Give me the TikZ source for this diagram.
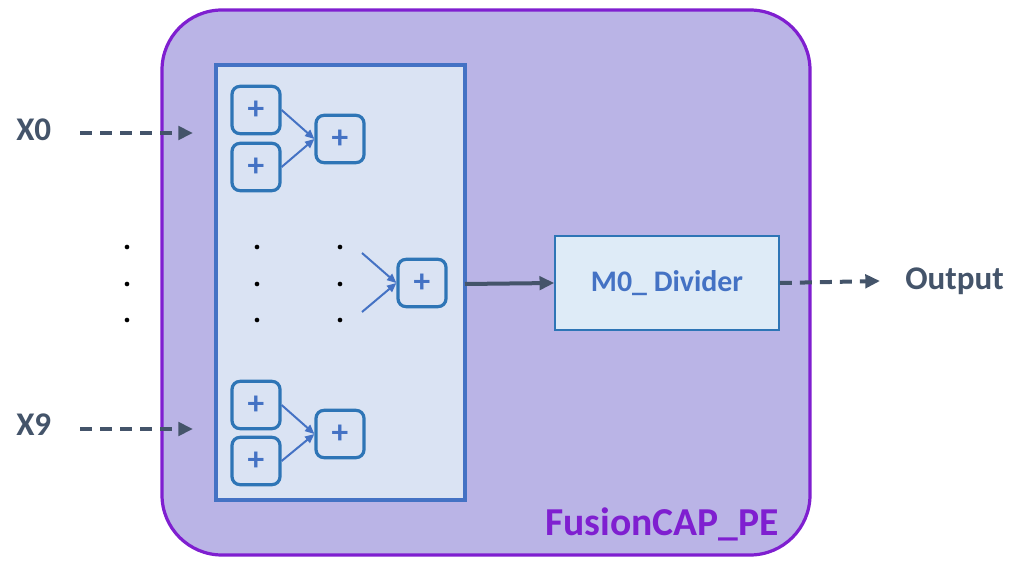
\documentclass[tikz,border=0pt]{standalone}
\usepackage{fontspec}
\setmainfont{Carlito}
\usetikzlibrary{arrows.meta}
\definecolor{purpl}{HTML}{7F1FD0}
\definecolor{outerfill}{HTML}{BAB4E6}
\definecolor{innerfill}{HTML}{DAE3F3}
\definecolor{blu}{HTML}{4472C4}
\definecolor{boxline}{HTML}{2E75B6}
\definecolor{slate}{HTML}{44546A}
\definecolor{divfill}{HTML}{DEEBF7}
\tikzset{
  addbox/.style={draw=boxline, line width=2.4pt, fill=innerfill, rounded corners=6pt,
    minimum width=36pt, minimum height=35.5pt, inner sep=0pt, text=blu,
    font=\fontsize{25}{25}\selectfont\bfseries},
  thinarr/.style={draw=blu, line width=1.5pt, -{Triangle[length=7pt,width=6pt]}},
  dasharr/.style={draw=slate, line width=3pt, dash pattern=on 9pt off 6pt, -{Triangle[length=11pt,width=10pt]}},
  lbl/.style={text=slate, font=\fontsize{24.8}{25}\selectfont\bfseries, inner sep=0pt},
  dot/.style={circle, fill=black, inner sep=0pt, minimum size=3.5pt},
}
\begin{document}
\begin{tikzpicture}[x=0.75pt,y=-0.75pt]
\useasboundingbox (0,0) rectangle (1009,566);
% outer
\draw[draw=purpl, fill=outerfill, line width=2.4pt, rounded corners=45pt] (162,10) rectangle (810,555);
\node[text=purpl, font=\fontsize{29.7}{30}\selectfont\bfseries, anchor=base east, inner sep=0pt] (title) at (779,535) {FusionCAP\_PE};
% inner
\draw[draw=blu, fill=innerfill, line width=2.4pt] (216,65) rectangle (465,500);
\coordinate (innerR) at (465,284);
% top group
\node[addbox] (a1) at (256,110) {+};
\node[addbox] (a2) at (256,167) {+};
\node[addbox] (a3) at (340,139) {+};
\draw[thinarr] (a1.east) -- (a3.west);
\draw[thinarr] (a2.east) -- (a3.west);
% bottom group
\node[addbox] (b1) at (256,405) {+};
\node[addbox] (b2) at (256,461) {+};
\node[addbox] (b3) at (340,434) {+};
\draw[thinarr] (b1.east) -- (b3.west);
\draw[thinarr] (b2.east) -- (b3.west);
% middle
\node[addbox] (m) at (422,283) {+};
\coordinate (m1) at (362,253);
\coordinate (m2) at (362,312);
\draw[thinarr] (m1) -- (m.west);
\draw[thinarr] (m2) -- (m.west);
% dots
\foreach \x/\n in {127/c, 257/d, 340/e}{
  \node[dot] (\n1) at (\x,247) {};
  \node[dot] (\n2) at (\x,284) {};
  \node[dot] (\n3) at (\x,320) {};
}
% divider
\node[draw=boxline, line width=1.2pt, fill=divfill, minimum width=168pt, minimum height=70.5pt, inner sep=0pt,
  text=blu, font=\fontsize{22.4}{23}\selectfont\bfseries] (div) at (667,283) {M0\_ Divider};
\draw[draw=slate, line width=3pt, -{Triangle[length=11pt,width=10pt]}] (innerR) -- (div.west);
% inputs
\node[lbl, anchor=west] (x0) at (16,130) {X0};
\node[lbl, anchor=west] (x9) at (16,425) {X9};
\coordinate (x0e) at (193,133);
\coordinate (x9e) at (193,429);
\draw[dasharr] (80,133) -- (x0e);
\draw[dasharr] (80,429) -- (x9e);
% output
\node[lbl, anchor=west] (out) at (905,281) {Output};
\draw[dasharr] (div.east) -- (out.west -| 880,0) ;
\end{tikzpicture}
\end{document}
